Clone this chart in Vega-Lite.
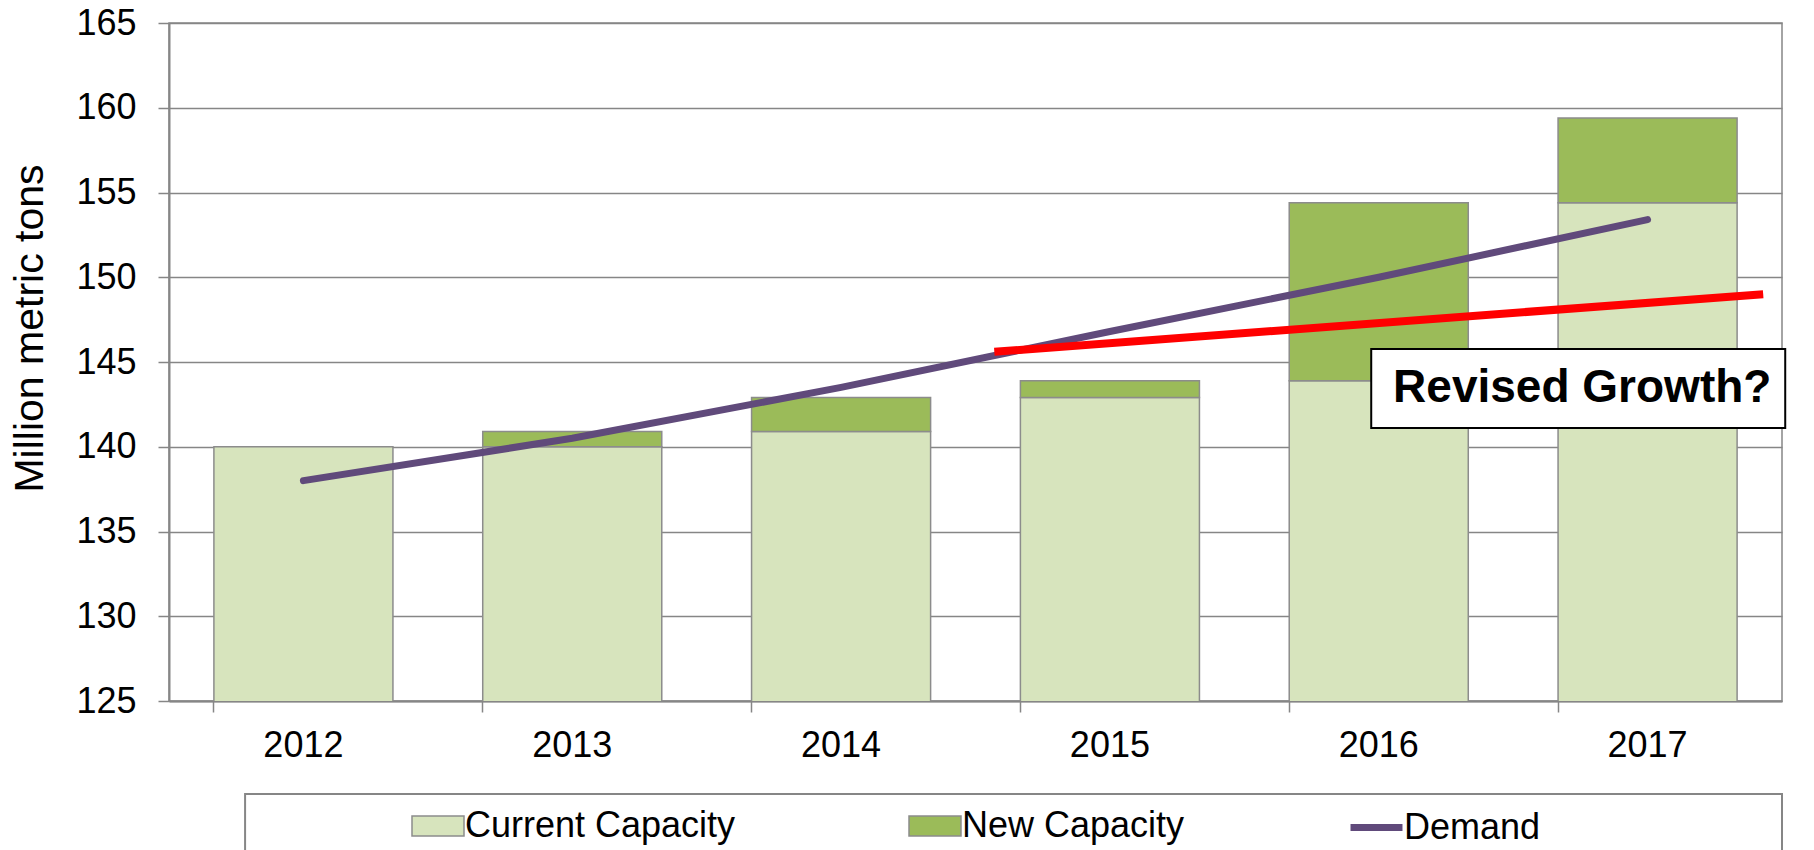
{
  "$schema": "https://vega.github.io/schema/vega-lite/v6.json",
  "width": 1613,
  "height": 678,
  "autosize": {"type": "none"},
  "padding": {"left": 169, "top": 23, "right": 32, "bottom": 149},
  "background": "white",
  "config": {
    "font": "Liberation Sans",
    "view": {"stroke": "#868686", "strokeWidth": 1.5},
    "axis": {"labelFont": "Liberation Sans", "titleFont": "Liberation Sans"},
    "legend": {"labelFont": "Liberation Sans"}
  },
  "datasets": {
    "bars": [
      {"year": "2012", "series": "Current Capacity", "value": 140.0},
      {"year": "2013", "series": "Current Capacity", "value": 140.0},
      {"year": "2013", "series": "New Capacity", "value": 0.9},
      {"year": "2014", "series": "Current Capacity", "value": 140.9},
      {"year": "2014", "series": "New Capacity", "value": 2.0},
      {"year": "2015", "series": "Current Capacity", "value": 142.9},
      {"year": "2015", "series": "New Capacity", "value": 1.0},
      {"year": "2016", "series": "Current Capacity", "value": 143.9},
      {"year": "2016", "series": "New Capacity", "value": 10.5},
      {"year": "2017", "series": "Current Capacity", "value": 154.4},
      {"year": "2017", "series": "New Capacity", "value": 5.0}
    ],
    "demand": [
      {"year": "2012", "series": "Demand", "value": 138.0},
      {"year": "2013", "series": "Demand", "value": 140.5},
      {"year": "2014", "series": "Demand", "value": 143.5},
      {"year": "2015", "series": "Demand", "value": 146.8},
      {"year": "2016", "series": "Demand", "value": 150.0},
      {"year": "2017", "series": "Demand", "value": 153.4}
    ],
    "revised": [
      {"pos": 3.07, "value": 145.6},
      {"pos": 5.93, "value": 149.0}
    ],
    "note": [
      {"x0": 4.472, "x1": 6.012, "y0": 141.1, "y1": 145.77, "xc": 5.257, "yc": 143.47, "label": "Revised Growth?"}
    ],
    "legendbox": [
      {"x0": 0.283, "x1": 6.0, "y0": 116.0, "y1": 119.51}
    ]
  },
  "layer": [
    {
      "layer": [
        {
          "data": {"name": "bars"},
          "mark": {"type": "bar", "clip": true, "stroke": "#8C8C8C", "strokeWidth": 1.5},
          "encoding": {
            "x": {
              "field": "year", "type": "ordinal",
              "scale": {"paddingInner": 0.334, "paddingOuter": 0.167},
              "axis": {
                "title": null, "bandPosition": 0, "labelAngle": 0,
                "labelFontSize": 36, "labelColor": "black", "labelPadding": 16,
                "tickSize": 11, "tickColor": "#868686", "tickWidth": 1.5,
                "domainColor": "#868686", "domainWidth": 2, "grid": false
              }
            },
            "y": {
              "field": "value", "type": "quantitative", "stack": "zero",
              "scale": {"domain": [125, 165], "zero": false, "nice": false},
              "axis": {
                "title": "Million metric tons", "titleFontSize": 41, "titleFontWeight": "normal",
                "titleColor": "black", "titleAngle": -90, "titleX": -127, "titleY": 305,
                "titleAlign": "center", "titleBaseline": "alphabetic",
                "values": [125, 130, 135, 140, 145, 150, 155, 160, 165],
                "labelFontSize": 36, "labelColor": "black", "labelPadding": 22,
                "tickSize": 11, "tickColor": "#868686", "tickWidth": 1.5,
                "domainColor": "#868686", "domainWidth": 2,
                "grid": true, "gridColor": "#868686", "gridWidth": 1.5
              }
            },
            "order": {"field": "series", "type": "nominal", "sort": "ascending"},
            "fill": {
              "field": "series", "type": "nominal",
              "scale": {
                "domain": ["Current Capacity", "New Capacity"],
                "range": ["#D7E4BD", "#9BBB59"]
              },
              "legend": {
                "title": null,
                "orient": "none",
                "legendX": 242,
                "legendY": 776,
                "direction": "horizontal",
                "padding": 0,
                "columnPadding": 170,
                "labelFontSize": 36,
                "labelColor": "black",
                "labelOffset": 0,
                "labelLimit": 1000,
                "symbolType": "M-1,-0.38H1V0.38H-1Z",
                "symbolSize": 2704,
                "symbolStrokeColor": "#8C8C8C",
                "symbolStrokeWidth": 1.5
              }
            }
          }
        },
        {
          "data": {"name": "demand"},
          "mark": {"type": "line", "strokeWidth": 7, "strokeCap": "round"},
          "encoding": {
            "x": {"field": "year", "type": "ordinal"},
            "y": {"field": "value", "type": "quantitative"},
            "stroke": {
              "field": "series", "type": "nominal",
              "scale": {"domain": ["Demand"], "range": ["#604A7B"]},
              "legend": {
                "title": null,
                "orient": "none",
                "legendX": 1178,
                "legendY": 775,
                "direction": "horizontal",
                "padding": 0,
                "labelFontSize": 36,
                "labelColor": "black",
                "labelOffset": -2,
                "labelLimit": 1000,
                "symbolType": "stroke",
                "symbolSize": 2700,
                "symbolStrokeWidth": 7
              }
            }
          }
        }
      ]
    },
    {
      "layer": [
        {
          "data": {"name": "legendbox"},
          "mark": {"type": "rect", "fill": null, "stroke": "#868686", "strokeWidth": 2},
          "encoding": {
            "x": {"field": "x0", "type": "quantitative", "scale": {"domain": [0, 6], "nice": false, "zero": false}, "axis": null},
            "x2": {"field": "x1"},
            "y": {"field": "y0", "type": "quantitative"},
            "y2": {"field": "y1"}
          }
        },
        {
          "data": {"name": "revised"},
          "mark": {"type": "line", "color": "#FF0000", "strokeWidth": 8, "strokeCap": "butt"},
          "encoding": {
            "x": {"field": "pos", "type": "quantitative"},
            "y": {"field": "value", "type": "quantitative"}
          }
        },
        {
          "data": {"name": "note"},
          "mark": {"type": "rect", "fill": "white", "stroke": "black", "strokeWidth": 2},
          "encoding": {
            "x": {"field": "x0", "type": "quantitative"},
            "x2": {"field": "x1"},
            "y": {"field": "y0", "type": "quantitative"},
            "y2": {"field": "y1"}
          }
        },
        {
          "data": {"name": "note"},
          "mark": {"type": "text", "fontSize": 46, "fontWeight": "bold", "color": "black", "align": "center", "baseline": "middle", "font": "Liberation Sans"},
          "encoding": {
            "x": {"field": "xc", "type": "quantitative"},
            "y": {"field": "yc", "type": "quantitative"},
            "text": {"field": "label"}
          }
        }
      ]
    }
  ],
  "resolve": {"scale": {"x": "independent"}, "axis": {"x": "independent"}}
}
